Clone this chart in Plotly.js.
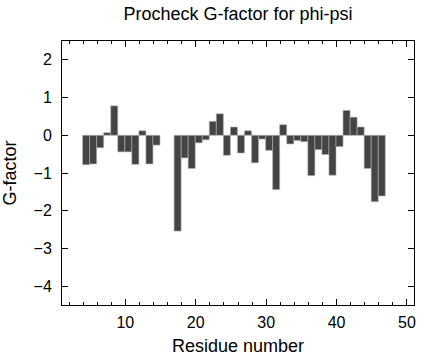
<!DOCTYPE html>
<html>
<head>
<meta charset="utf-8">
<script src="https://cdn.plot.ly/plotly-3.0.1.min.js"></script>
<style>html,body{margin:0;padding:0;background:#fff;}#chart{width:424px;height:360px;}</style>
</head>
<body>
<div id="chart"></div>
<script>
const residues = [4,5,6,7,8,9,10,11,12,13,14,
  17,18,19,20,21,22,23,24,25,26,27,28,29,30,31,32,33,34,35,36,37,38,39,40,41,42,43,44,45,46];
const gfactor = [-0.78,-0.76,-0.33,0.07,0.78,-0.44,-0.44,-0.77,0.12,-0.76,-0.26,
  -2.54,-0.60,-0.88,-0.20,-0.12,0.37,0.57,-0.53,0.22,-0.47,0.12,-0.73,-0.10,-0.40,-1.44,0.28,-0.23,-0.14,-0.17,-1.07,-0.38,-0.51,-1.06,-0.30,0.66,0.48,0.22,-0.88,-1.76,-1.61];

const font = "Liberation Sans, Arial, Helvetica, sans-serif";
const trace = {
  type: 'bar',
  x: residues,
  y: gfactor,
  width: 1,
  offset: -0.08,
  marker: {color: '#444444', line: {color: '#b0b0b0', width: 0.6}},
  hoverinfo: 'x+y'
};
const layout = {
  width: 424, height: 360,
  margin: {l: 62, r: 10, t: 41, b: 55},
  paper_bgcolor: '#fff', plot_bgcolor: '#fff',
  showlegend: false,
  font: {family: font, color: '#000', size: 16},
  title: {text: 'Procheck G-factor for phi-psi', font: {family: font, size: 18, color: '#000'},
          x: 0.5613, xanchor: 'center', y: 0.962, yanchor: 'middle'},
  xaxis: {
    range: [1, 51], tick0: 0, dtick: 10, ticks: 'inside', ticklen: 6, tickcolor: '#000',
    showline: true, linecolor: '#000', linewidth: 1, mirror: 'allticks',
    showgrid: false, zeroline: false, ticklabelstandoff: 3,
    tickfont: {family: font, size: 16, color: '#000'},
    minor: {dtick: 2, tick0: 0, ticks: 'inside', ticklen: 3, tickcolor: '#000', showgrid: false},
    title: {text: 'Residue number', font: {family: font, size: 18, color: '#000'}, standoff: 9}
  },
  yaxis: {
    range: [-4.5, 2.5], tick0: 0, dtick: 1, ticks: 'inside', ticklen: 6, tickcolor: '#000',
    showline: true, linecolor: '#000', linewidth: 1, mirror: 'allticks',
    showgrid: false, zeroline: false, ticklabelstandoff: 6,
    tickfont: {family: font, size: 16, color: '#000'},
    title: {text: 'G-factor', font: {family: font, size: 18, color: '#000'}, standoff: 14}
  }
};
Plotly.newPlot('chart', [trace], layout, {displayModeBar: false, staticPlot: true});
</script>
</body>
</html>
